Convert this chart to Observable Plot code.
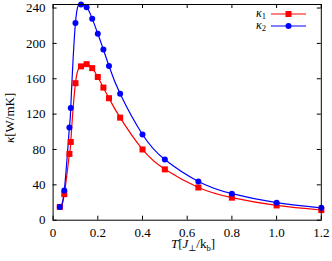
<!DOCTYPE html>
<html>
<head>
<meta charset="utf-8">
<script src="https://cdn.jsdelivr.net/npm/d3@7"></script>
<script src="https://cdn.jsdelivr.net/npm/@observablehq/plot@0.6"></script>
<style>
  html, body { margin: 0; padding: 0; background: #fff; }
  svg { display: block; }
</style>
</head>
<body>
<div id="chart"></div>
<script>
// Data
const T = [0.03, 0.05, 0.073, 0.079, 0.1, 0.125, 0.15, 0.175, 0.2, 0.225, 0.25, 0.3, 0.4, 0.5, 0.65, 0.8, 1.0, 1.2];
const kappa1 = [15, 29.5, 75, 88.5, 155, 174, 176.5, 172, 162, 150, 138, 116, 80, 57.5, 37, 25.5, 16.7, 11.5];
const kappa2 = [15, 33.5, 105, 127, 223, 244, 241, 228, 211, 193, 174.5, 143, 97, 68.6, 43.8, 30, 19.8, 14];
const xTicks = [0, 0.2, 0.4, 0.6, 0.8, 1.0, 1.2];
const yTicks = [0, 40, 80, 120, 160, 200, 240];
const seriesNames = ["κ1", "κ2"];
const seriesColors = ["#ff0000", "#0000ff"];

const W = 332, H = 261;
const mL = 52.6, mR = 11.2, mT = 4, mB = 41.3;
const frameW = W - mL - mR, frameH = H - mT - mB;
const tl = 4;

const d1 = T.map((t, i) => ({T: t, k: kappa1[i]}));
const d2 = T.map((t, i) => ({T: t, k: kappa2[i]}));

const chart = Plot.plot({
  width: W, height: H,
  marginLeft: mL, marginRight: mR, marginTop: mT, marginBottom: mB,
  style: {fontFamily: "'Liberation Serif', 'DejaVu Serif', serif", fontSize: "13px", color: "#000", background: "#fff"},
  x: {domain: [0, 1.2], ticks: xTicks, tickFormat: d => d === 0 ? "0" : d.toFixed(1), label: null, tickSize: 0, tickPadding: 8},
  y: {domain: [0, 244], ticks: yTicks, tickFormat: d => String(d), label: null, tickSize: 0, tickPadding: 7.5},
  marks: [
    Plot.tickX(xTicks, {x: d => d, insetTop: frameH - tl, stroke: "#000"}),
    Plot.tickX(xTicks, {x: d => d, insetBottom: frameH - tl, stroke: "#000"}),
    Plot.tickY(yTicks, {y: d => d, insetRight: frameW - tl, stroke: "#000"}),
    Plot.tickY(yTicks, {y: d => d, insetLeft: frameW - tl, stroke: "#000"}),
    Plot.line(d1, {x: "T", y: "k", stroke: seriesColors[0], strokeWidth: 1.2, curve: "natural", clip: true}),
    Plot.line(d2, {x: "T", y: "k", stroke: seriesColors[1], strokeWidth: 1.2, curve: "natural", clip: true}),
    Plot.dot(d1, {x: "T", y: "k", symbol: "square", fill: seriesColors[0], r: 3.4}),
    Plot.dot(d2, {x: "T", y: "k", symbol: "circle", fill: seriesColors[1], r: 3}),
    Plot.frame({stroke: "#000", strokeWidth: 1})
  ]
});

document.getElementById("chart").appendChild(chart);

const svg = d3.select(chart);
const serif = "'Liberation Serif', 'DejaVu Serif', serif";

// Legend
const leg = svg.append("g").attr("font-family", serif).attr("font-size", 12);
seriesNames.forEach((name, i) => {
  const y = 14 + i * 12;
  const t = leg.append("text").attr("x", 266).attr("y", y + 3).attr("text-anchor", "end");
  t.append("tspan").attr("font-style", "italic").text(name[0]);
  t.append("tspan").attr("font-size", 8.5).attr("dy", 1.5).text(name.slice(1));
  leg.append("line").attr("x1", 271).attr("x2", 306).attr("y1", y).attr("y2", y)
    .attr("stroke", seriesColors[i]).attr("stroke-width", 1.2);
  if (i === 0) {
    leg.append("rect").attr("x", 288.5 - 3).attr("y", y - 3).attr("width", 6).attr("height", 6).attr("fill", seriesColors[i]);
  } else {
    leg.append("circle").attr("cx", 288.5).attr("cy", y).attr("r", 3).attr("fill", seriesColors[i]);
  }
});

// X axis label: T[J⊥/k_b]
const xl = svg.append("text").attr("x", 193).attr("y", 248).attr("text-anchor", "middle")
  .attr("font-family", serif).attr("font-size", 13);
xl.append("tspan").attr("font-style", "italic").text("T");
xl.append("tspan").text("[");
xl.append("tspan").attr("font-style", "italic").text("J");
xl.append("tspan").attr("font-size", 8.5).attr("dy", 2.5).text("⊥");
xl.append("tspan").attr("dy", -2.5).text("/k");
xl.append("tspan").attr("font-size", 8.5).attr("dy", 2.5).text("b");
xl.append("tspan").attr("dy", -2.5).text("]");

// Y axis label: κ[W/mK]
const yl = svg.append("text").attr("transform", `translate(14, ${mT + frameH / 2 + 6}) rotate(-90)`)
  .attr("text-anchor", "middle").attr("font-family", serif).attr("font-size", 13);
yl.append("tspan").attr("font-style", "italic").text("κ");
yl.append("tspan").text("[W/mK]");
</script>
</body>
</html>
